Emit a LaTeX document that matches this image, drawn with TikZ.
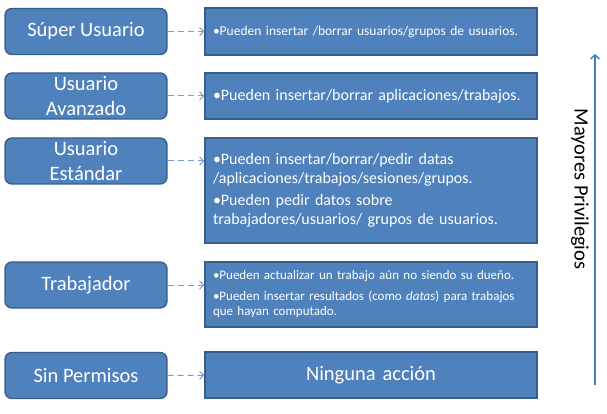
\documentclass[tikz,border=0pt]{standalone}
\usepackage{fontspec}
\setmainfont{Carlito}
\usepackage{tikz}
\usetikzlibrary{arrows.meta}
\definecolor{boxblue}{HTML}{4F81BD}
\definecolor{boxedge}{HTML}{385D8A}
\definecolor{linkblue}{HTML}{7A9CD0}
\definecolor{axisblue}{HTML}{4A7EBB}

\begin{document}
\begin{tikzpicture}[x=1pt,y=-1pt,
  role/.style={draw=boxedge,line width=1.4pt,fill=boxblue,rounded corners=7pt,minimum width=162pt,minimum height=46pt,inner sep=0,text=white,align=center,font=\fontsize{20.5}{25}\selectfont},
  task/.style={draw=boxedge,line width=1.4pt,fill=boxblue,minimum width=332pt,text width=316pt,inner xsep=8pt,inner ysep=0,text=white,align=left},
  link/.style={draw=linkblue,dash pattern=on 6pt off 4pt,-{Straight Barb[length=4pt,width=8pt]},line width=1pt}]
        \useasboundingbox (0,0) rectangle (607,414);
        \node[role] (su) at (86,31.5) {Súper Usuario};
        \node[role] (ua) at (86,96) {Usuario\\Avanzado};
        \node[role] (ue) at (86,161) {Usuario\\Estándar};
        \node[role] (tr) at (86,285) {Trabajador};
        \node[role] (sp) at (86,375.5) {Sin Permisos};
        \node[task,minimum height=47pt,font=\fontsize{13.5}{16}\selectfont] (a1) at (371,31.5) {•Pueden insertar /borrar usuarios/grupos de usuarios.};
        \node[task,minimum height=46pt,font=\fontsize{16}{19.5}\selectfont] (a2) at (371,96) {•Pueden insertar/borrar aplicaciones/trabajos.};
        \node[task,minimum height=105pt,font=\fontsize{16}{19.5}\selectfont] (a3) at (371,190.5) {•Pueden insertar/borrar/pedir datas\\/aplicaciones/trabajos/sesiones/grupos.\\[2pt]•Pueden pedir datos sobre\\trabajadores/usuarios/ grupos de usuarios.};
        \node[task,minimum height=65pt,font=\fontsize{13}{15.5}\selectfont] (a4) at (371,294.5) {•Pueden actualizar un trabajo aún no siendo su dueño.\\[5pt]•Pueden insertar resultados (como \textit{datas}) para trabajos\\que hayan computado.};
        \node[task,minimum height=46pt,align=center,font=\fontsize{20.5}{25}\selectfont] (a5) at (371,375) {Ninguna acción};
        \draw[link] (su) -- (a1);
        \draw[link] (ua) -- (a2);
        \draw[link] (ue.east) -- (ue.east -| a3.west);
        \draw[link] (tr.east) -- (tr.east -| a4.west);
        \draw[link] (sp) -- (a5);
        \coordinate (lo) at (595,385);
        \coordinate (hi) at (595,54);
        \draw[axisblue,line width=1.4pt,-{Straight Barb[length=4pt,width=9pt]}] (lo) -- (hi);
        \node[rotate=-90,font=\fontsize{20.5}{25}\selectfont] (mp) at (580,189) {Mayores Privilegios};
      \end{tikzpicture}
\end{document}
